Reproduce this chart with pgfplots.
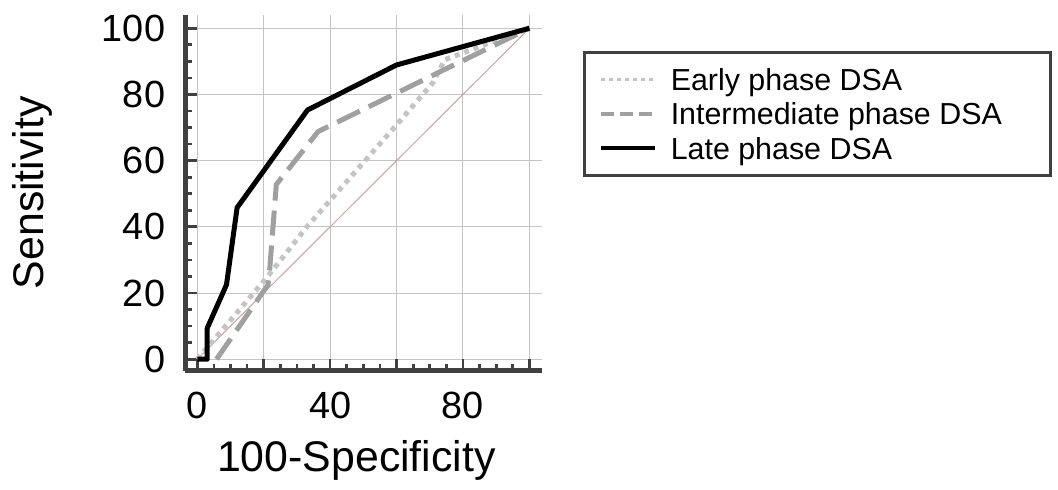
\documentclass[border=0pt]{standalone}
\usepackage{fontspec}
\setmainfont{Liberation Sans}
\usepackage{pgfplots}
\pgfplotsset{compat=1.18}
\definecolor{axisgray}{HTML}{404040}
\definecolor{gridgray}{HTML}{C4C4C4}
\definecolor{diaggray}{HTML}{C8A4A4}
\definecolor{earlygray}{HTML}{C4C4C4}
\definecolor{midgray}{HTML}{A0A0A0}

\begin{document}
\begin{tikzpicture}
  \useasboundingbox (0,0) rectangle (1058bp,490bp);
  \begin{axis}[
    at={(185.3bp,119.5bp)}, anchor=south west,
    scale only axis, width=356.4bp, height=355.5bp,
    xmin=-3.6, xmax=103.7, ymin=-3.4, ymax=104,
    axis lines=left,
    axis line style={-, line width=4.5bp, draw=axisgray},
    xtick={0,20,40,60,80,100}, ytick={0,20,40,60,80,100},
    xticklabels={0,,40,,80,},
    minor tick num=3,
    tick align=inside,
    major tick length=12bp, minor tick length=6.5bp,
    tick style={line width=2.7bp, draw=axisgray},
    grid=major, grid style={line width=1bp, draw=gridgray},
    /pgf/number format/assume math mode=true,
    ticklabel style={font=\fontsize{38}{38}\selectfont, inner sep=0pt},
    yticklabel style={xshift=-20bp},
    xticklabel style={yshift=-21bp},
    xlabel={100-Specificity}, ylabel={Sensitivity},
    label style={font=\fontsize{43}{43}\selectfont},
    xlabel style={at={(axis description cs:0.48,-0.2855)}, anchor=base},
    ylabel style={at={(axis description cs:-0.3965,0.5)}, anchor=base},
    legend style={at={(axis description cs:1.1167,0.8987)}, anchor=north west,
      draw=axisgray, line width=3bp, inner xsep=14bp, inner ysep=9.5bp,
      font=\fontsize{30.5}{30.5}\selectfont,
      nodes={inner sep=0pt, text height=28.25bp, text depth=6.25bp},
      column sep=0bp, row sep=0bp},
    legend cell align=left,
    legend image code/.code={\draw[#1] (0bp,0bp) -- (54bp,0bp);},
  ]
    % chance line
    \addplot[diaggray, line width=1bp, forget plot] coordinates {(0,0) (100,100)};

    \addplot[earlygray, line width=5bp, dash pattern=on 5bp off 5bp, forget plot] coordinates {
      (0,0) (20.8,24.5) (33,40) (60,70.8) (71,83.6) (74.5,90.5) (100,100)
    };
    \addplot[midgray, line width=5bp, dash pattern=on 25bp off 10bp, forget plot] coordinates {
      (5.8,0) (21.3,22.5) (21.8,27) (23.8,52.8) (36.4,68.8) (60,80.4) (74,87.3) (100,100)
    };
    \addplot[black, line width=5bp, line join=round, forget plot] coordinates {
      (0,0) (3,0) (3,9.4) (8.8,22.5) (12,45.8) (33.2,75.3) (60,88.9) (100,100)
    };

    \addlegendimage{earlygray, line width=3.5bp, dash pattern=on 4bp off 4bp}
    \addlegendentry{\makebox[380bp][l]{\hspace{14bp}Early phase DSA}}
    \addlegendimage{midgray, line width=3.5bp, dash pattern=on 13bp off 6bp}
    \addlegendentry{\makebox[380bp][l]{\hspace{14bp}Intermediate phase DSA}}
    \addlegendimage{black, line width=4bp}
    \addlegendentry{\makebox[380bp][l]{\hspace{14bp}Late phase DSA}}
  \end{axis}
\end{tikzpicture}
\end{document}
